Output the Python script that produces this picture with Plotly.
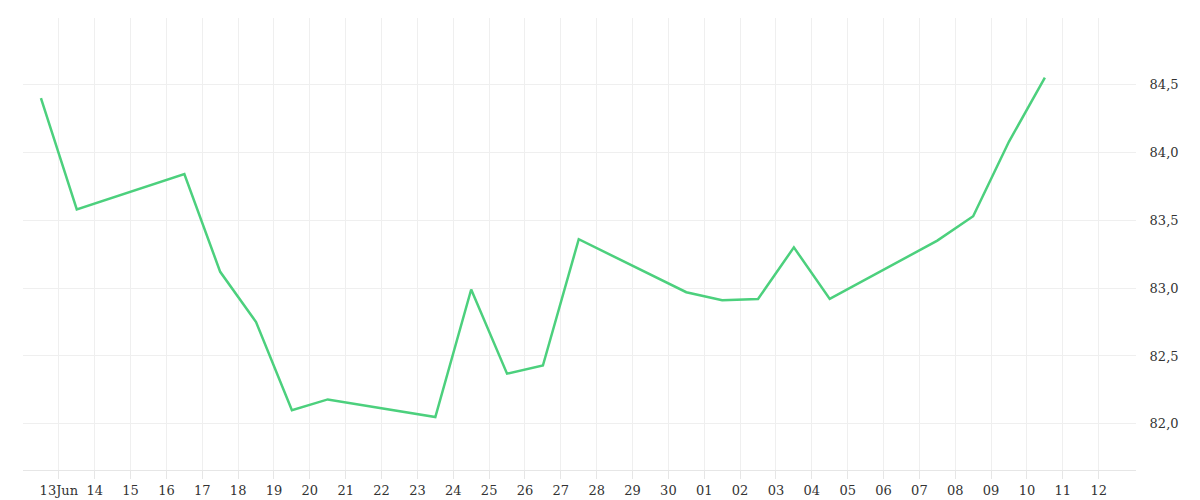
import plotly.graph_objects as go
import pandas as pd

dates = ["2024-06-12 12:00","2024-06-13 12:00","2024-06-16 12:00","2024-06-17 12:00","2024-06-18 12:00",
         "2024-06-19 12:00","2024-06-20 12:00","2024-06-23 12:00","2024-06-24 12:00","2024-06-25 12:00",
         "2024-06-26 12:00","2024-06-27 12:00","2024-06-30 12:00","2024-07-01 12:00","2024-07-02 12:00",
         "2024-07-03 12:00","2024-07-04 12:00","2024-07-07 12:00","2024-07-08 12:00","2024-07-09 12:00",
         "2024-07-10 12:00"]
values = [84.40,83.58,83.84,83.12,82.75,82.10,82.18,82.05,82.99,82.37,82.43,83.36,82.97,82.91,82.92,
          83.30,82.92,83.35,83.53,84.08,84.55]

tick_dates = pd.date_range("2024-06-13","2024-07-12",freq="D")
tick_text = ["13Jun"] + [d.strftime("%d") for d in tick_dates[1:]]

fig = go.Figure(go.Scatter(x=dates, y=values, mode="lines",
                           line=dict(color="#4cd07d", width=2.5)))
fig.update_layout(
    width=1200, height=500, margin=dict(l=15, r=72, t=10, b=35),
    plot_bgcolor="white", paper_bgcolor="white", showlegend=False,
    separators=",.",
    font=dict(family="DejaVu Serif, Liberation Serif, serif", size=13, color="#333"),
)
fig.update_xaxes(range=["2024-06-12 00:00","2024-07-13 01:00"], tickvals=list(tick_dates),
                 ticktext=tick_text, showgrid=True, gridcolor="#efefef",
                 ticks="outside", tickcolor="#e6e6e6", ticklen=8, showline=True, linecolor="#e6e6e6")
fig.update_yaxes(side="right", range=[81.66, 84.99], tickvals=[82,82.5,83,83.5,84,84.5],
                 tickformat=".1f", showgrid=True, gridcolor="#efefef", zeroline=False,
                 ticks="outside", tickcolor="white", ticklen=10)
fig.write_html("out.html")
